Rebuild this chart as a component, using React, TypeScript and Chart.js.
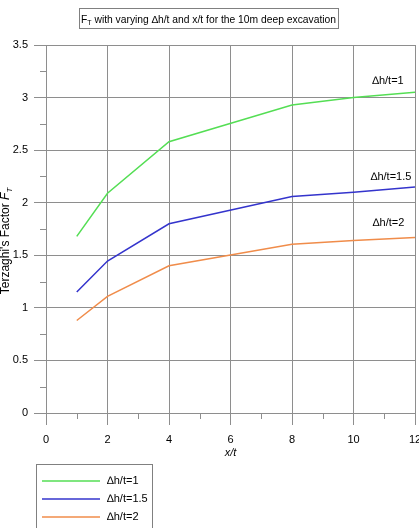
import { useEffect, useRef } from 'react';
import { Chart, registerables } from 'chart.js';

Chart.register(...registerables);

const FONT = '"Liberation Sans", Arial, Helvetica, sans-serif';

// ---- data ----
const xValues = [1, 2, 4, 8, 10, 12];
const seriesDh1 = [1.68, 2.09, 2.58, 2.93, 3.0, 3.05];
const seriesDh15 = [1.15, 1.445, 1.8, 2.06, 2.1, 2.15];
const seriesDh2 = [0.88, 1.11, 1.4, 1.605, 1.64, 1.67];
const seriesLabels = ['\u2206h/t=1', '\u2206h/t=1.5', '\u2206h/t=2'];
const xTickValues = [0, 2, 4, 6, 8, 10, 12];
const yTickValues = [0, 0.5, 1, 1.5, 2, 2.5, 3, 3.5];

const COLORS = ['rgb(84, 222, 84)', 'rgb(52, 52, 204)', 'rgb(240, 140, 74)'];
const GRID = '#8e8e8e';

// annotation anchors in data coordinates (centre of text)
const annotAnchors = [
  { x: 11.12, y: 3.16 },
  { x: 11.22, y: 2.245 },
  { x: 11.14, y: 1.81 },
];

const toPoints = (ys: number[]) => xValues.map((x, i) => ({ x, y: ys[i] }));

const decorPlugin = {
  id: 'decor',
  afterDraw(chart: any) {
    const ctx: CanvasRenderingContext2D = chart.ctx;
    const xs = chart.scales.x;
    const ys = chart.scales.y;
    const area = chart.chartArea;
    ctx.save();

    // minor ticks
    ctx.strokeStyle = GRID;
    ctx.lineWidth = 1;
    ctx.beginPath();
    for (let i = 0; i < yTickValues.length - 1; i++) {
      const v = (yTickValues[i] + yTickValues[i + 1]) / 2;
      const py = Math.round(ys.getPixelForValue(v)) + 0.5;
      ctx.moveTo(area.left - 6, py);
      ctx.lineTo(area.left, py);
    }
    for (let i = 0; i < xTickValues.length - 1; i++) {
      const v = (xTickValues[i] + xTickValues[i + 1]) / 2;
      const px = Math.round(xs.getPixelForValue(v)) + 0.5;
      ctx.moveTo(px, area.bottom);
      ctx.lineTo(px, area.bottom + 6);
    }
    ctx.stroke();

    // title with subscript
    const rest = ' with varying \u2206h/t and x/t for the 10m deep excavation';
    const TS = 10.3;
    ctx.fillStyle = '#000';
    ctx.textBaseline = 'alphabetic';
    ctx.textAlign = 'left';
    ctx.font = `${TS}px ${FONT}`;
    const wF = ctx.measureText('F').width;
    const wRest = ctx.measureText(rest).width;
    ctx.font = `7px ${FONT}`;
    const wT = ctx.measureText('T').width;
    const total = wF + wT + wRest;
    const cx = 208.5;
    ctx.strokeStyle = '#808080';
    ctx.strokeRect(79.5, 8.5, 259, 20);
    let tx = cx - total / 2;
    const base = 22.5;
    ctx.font = `${TS}px ${FONT}`;
    ctx.fillText('F', tx, base);
    tx += wF;
    ctx.font = `7px ${FONT}`;
    ctx.fillText('T', tx, base + 2);
    tx += wT;
    ctx.font = `${TS}px ${FONT}`;
    ctx.fillText(rest, tx, base);

    // x axis title
    ctx.font = `italic 11px ${FONT}`;
    ctx.textAlign = 'center';
    ctx.fillText('x/t', (area.left + area.right) / 2, 456);

    // y axis title (rotated, with italic F_T)
    ctx.save();
    ctx.translate(9, 241);
    ctx.rotate(-Math.PI / 2);
    ctx.textAlign = 'left';
    const yt1 = "Terzaghi's Factor ";
    ctx.font = `12px ${FONT}`;
    const w1 = ctx.measureText(yt1).width;
    ctx.font = `italic 12px ${FONT}`;
    const w2 = ctx.measureText('F').width;
    ctx.font = `italic 8px ${FONT}`;
    const w3 = ctx.measureText('T').width;
    let yx = -(w1 + w2 + w3) / 2;
    ctx.font = `12px ${FONT}`;
    ctx.fillText(yt1, yx, 0);
    yx += w1;
    ctx.font = `italic 12px ${FONT}`;
    ctx.fillText('F', yx, 0);
    yx += w2;
    ctx.font = `italic 8px ${FONT}`;
    ctx.fillText('T', yx, 3);
    ctx.restore();

    // line annotations
    ctx.font = `11px ${FONT}`;
    ctx.textAlign = 'center';
    ctx.textBaseline = 'middle';
    annotAnchors.forEach((a, i) => {
      ctx.fillText(seriesLabels[i], xs.getPixelForValue(a.x), ys.getPixelForValue(a.y));
    });

    // legend box
    ctx.strokeStyle = '#808080';
    ctx.lineWidth = 1;
    ctx.strokeRect(36.5, 464.5, 116, 80);
    ctx.textAlign = 'left';
    ctx.textBaseline = 'middle';
    chart.data.datasets.forEach((ds: any, i: number) => {
      const ly = 481 + i * 18;
      ctx.strokeStyle = ds.borderColor;
      ctx.lineWidth = 1.5;
      ctx.beginPath();
      ctx.moveTo(42, ly);
      ctx.lineTo(100, ly);
      ctx.stroke();
      ctx.fillStyle = '#000';
      ctx.fillText(ds.label, 107, ly);
    });

    ctx.restore();
  },
};

export default function App() {
  const ref = useRef<HTMLCanvasElement | null>(null);

  useEffect(() => {
    document.body.style.margin = '0';
    if (!ref.current) return;
    const chart = new Chart(ref.current, {
      type: 'line',
      data: {
        datasets: [seriesDh1, seriesDh15, seriesDh2].map((s, i) => ({
          label: seriesLabels[i],
          data: toPoints(s),
          borderColor: COLORS[i],
          backgroundColor: COLORS[i],
          borderWidth: 1.5,
          pointRadius: 0,
          tension: 0,
          fill: false,
        })),
      },
      options: {
        responsive: false,
        animation: false,
        devicePixelRatio: 1,
        layout: { padding: { top: 45, right: 4, left: 0, bottom: 0 } },
        plugins: {
          legend: { display: false },
          title: { display: false },
          tooltip: { enabled: false },
        },
        scales: {
          x: {
            type: 'linear',
            min: 0,
            max: 12,
            afterBuildTicks: (scale: any) => {
              scale.ticks = xTickValues.map((v) => ({ value: v }));
            },
            afterFit: (scale: any) => {
              scale.height = 115;
              scale.paddingLeft = 0;
              scale.paddingRight = 0;
            },
            ticks: {
              color: '#000',
              font: { family: FONT, size: 11 },
              padding: 8,
              maxRotation: 0,
              autoSkip: false,
            },
            grid: { color: GRID, tickLength: 12, lineWidth: 1 },
            border: { color: GRID },
          },
          y: {
            type: 'linear',
            min: 0,
            max: 3.5,
            afterBuildTicks: (scale: any) => {
              scale.ticks = yTickValues.map((v) => ({ value: v }));
            },
            afterFit: (scale: any) => {
              scale.width = 46;
              scale.paddingTop = 0;
              scale.paddingBottom = 0;
            },
            ticks: {
              color: '#000',
              font: { family: FONT, size: 11 },
              padding: 6,
              autoSkip: false,
              callback: (v: any) => String(v),
            },
            grid: { color: GRID, tickLength: 12, lineWidth: 1 },
            border: { color: GRID },
          },
        },
      },
      plugins: [decorPlugin],
    });
    return () => chart.destroy();
  }, []);

  return <canvas ref={ref} width={419} height={528} style={{ display: 'block' }} />;
}
